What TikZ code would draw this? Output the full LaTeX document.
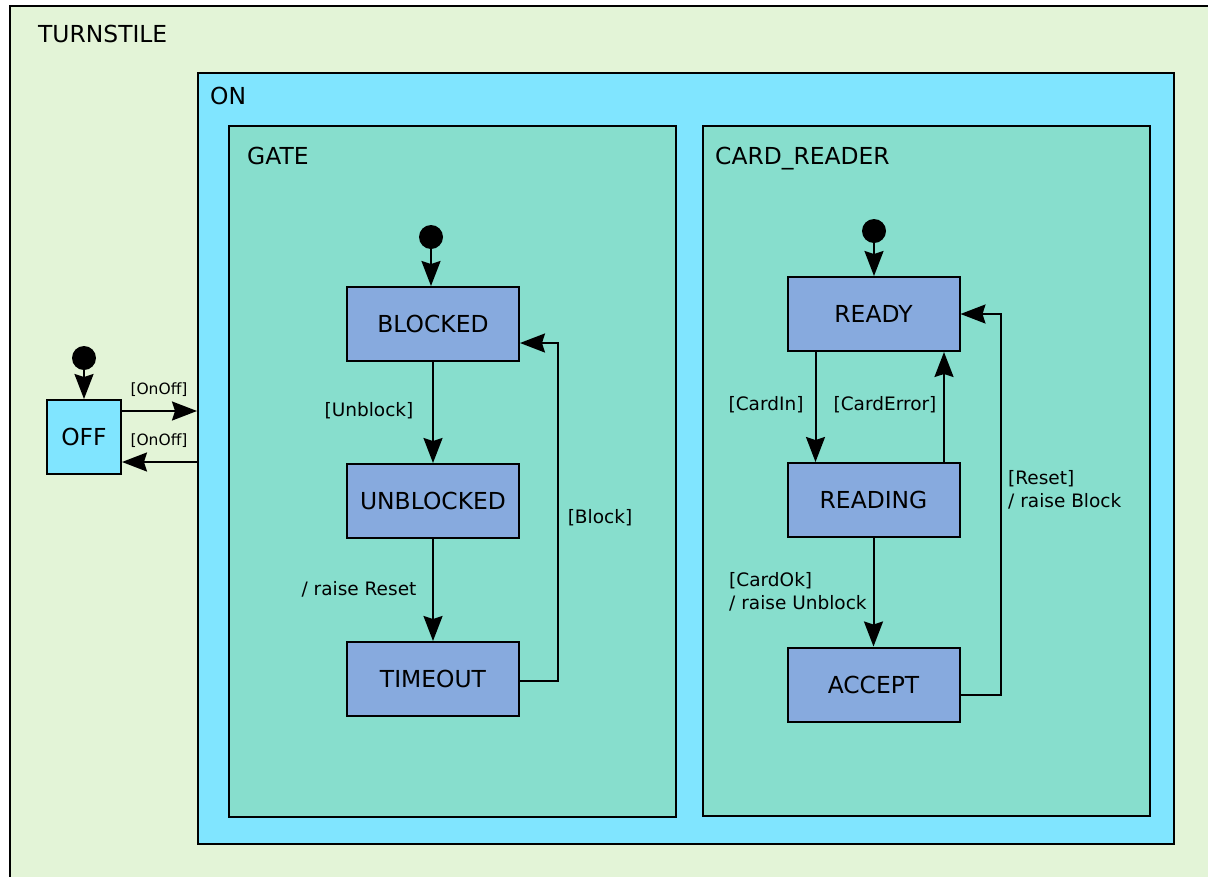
\documentclass[tikz,border=0pt]{standalone}
\usepackage{fontspec}
\setmainfont{DejaVu Sans}
\usetikzlibrary{arrows.meta,positioning}
\definecolor{outerc}{HTML}{E3F4D7}
\definecolor{onc}{HTML}{80E5FF}
\definecolor{regc}{HTML}{87DECD}
\definecolor{statec}{HTML}{87AADE}
\tikzset{
  bigfont/.style={font=\fontsize{23.4}{28}\selectfont},
  lblfont/.style={font=\fontsize{18.5}{23}\selectfont},
  smallfont/.style={font=\fontsize{15.5}{18}\selectfont},
  container/.style={draw=black, line width=2pt, anchor=north west, inner sep=0pt},
  statebox/.style={draw=black, line width=2pt, fill=statec, minimum width=172pt, minimum height=74pt, inner sep=0pt, bigfont},
  initdot/.style={circle, fill=black, minimum size=24pt, inner sep=0pt},
  arr/.style={-{Stealth[length=25pt,width=19pt,inset=3pt]}, line width=2pt},
  tlabel/.style={lblfont, inner sep=0pt},
}
\begin{document}
\begin{tikzpicture}[x=1pt,y=-1pt]
\useasboundingbox (0,0) rectangle (1208,876);
\fill[white] (0,0) rectangle (1208,876);
\begin{scope}
\clip (0,0) rectangle (1208,876);
\node[container, fill=outerc, minimum width=1220pt, minimum height=890pt] (turnstile) at (8.5,4.5) {};
\end{scope}
\node[bigfont, anchor=base west, inner sep=0pt] (tlbl) at (38,42) {TURNSTILE};

\node[container, fill=onc, minimum width=976pt, minimum height=771pt] (on) at (197,72) {};
\node[bigfont, anchor=base west, inner sep=0pt] (onlbl) at (210,104) {ON};

\node[container, fill=regc, minimum width=447pt, minimum height=691pt] (gate) at (228,125) {};
\node[bigfont, anchor=base west, inner sep=0pt] (gatelbl) at (247,164) {GATE};

\node[container, fill=regc, minimum width=447pt, minimum height=690pt] (card) at (702,125) {};
\node[bigfont, anchor=base west, inner sep=0pt] (cardlbl) at (715,164) {CARD\_READER};

% OFF
\node[draw=black, line width=2pt, fill=onc, minimum width=74pt, minimum height=74pt, inner sep=0pt, bigfont] (off) at (84,437) {OFF};
\node[initdot] (i0) at (84,358) {};
\draw[arr] (i0) -- (off);
\draw[arr] ([yshift=26pt]off.east) -- ([yshift=26pt]off.east -| on.west);
\draw[arr] ([yshift=-25pt]off.east -| on.west) -- ([yshift=-25pt]off.east);
\node[smallfont, inner sep=0pt] (l1) at (159,390) {[OnOff]};
\node[smallfont, inner sep=0pt] (l2) at (159,441) {[OnOff]};

% GATE states
\node[statebox] (blocked) at (433,324) {BLOCKED};
\node[statebox] (unblocked) at (433,501) {UNBLOCKED};
\node[statebox] (timeout) at (433,679) {TIMEOUT};
\node[initdot] (i1) at (431,237) {};
\draw[arr] (i1) -- (i1 |- blocked.north);
\draw[arr] (blocked) -- (unblocked);
\draw[arr] (unblocked) -- (timeout);
\draw[arr] ([yshift=-2pt]timeout.east) -- ++(38,0) |- ([yshift=-19pt]blocked.east);
\node[tlabel] (lu) at (369,411) {[Unblock]};
\node[tlabel] (lr) at (359,589) {/ raise Reset};
\node[tlabel] (lb) at (600,518) {[Block]};

% CARD_READER states
\node[statebox] (ready) at (873.5,314) {READY};
\node[statebox] (reading) at (873.5,500) {READING};
\node[statebox] (accept) at (873.5,684.5) {ACCEPT};
\node[initdot] (i2) at (874,231) {};
\draw[arr] (i2) -- (i2 |- ready.north);
\draw[arr] ([xshift=-58pt]ready.south) -- ([xshift=-58pt]reading.north);
\draw[arr] ([xshift=70.5pt]reading.north) -- ([xshift=70.5pt]ready.south);
\draw[arr] (reading) -- (accept);
\draw[arr] ([yshift=-10pt]accept.east) -- ++(40,0) |- (ready.east);
\node[tlabel] (lci) at (766,405) {[CardIn]};
\node[tlabel] (lce) at (885,405) {[CardError]};
\node[tlabel, anchor=west, align=left] (lco) at (729,591.5) {[CardOk]\\/ raise Unblock};
\node[tlabel, anchor=west, align=left] (lrs) at (1008,489.5) {[Reset]\\/ raise Block};
\end{tikzpicture}
\end{document}
